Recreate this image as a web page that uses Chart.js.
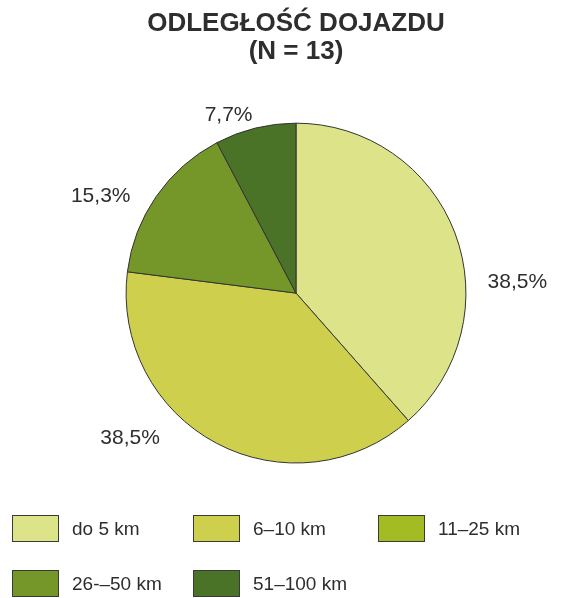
<!DOCTYPE html>
<html>
<head>
<meta charset="utf-8">
<script src="https://cdn.jsdelivr.net/npm/chart.js@4"></script>
<style>
  html, body { margin: 0; padding: 0; background: #ffffff; }
  #wrap { position: relative; width: 582px; height: 598px; }
</style>
</head>
<body>
<div id="wrap"><canvas id="c" width="582" height="598"></canvas></div>
<script>
// ---- data ----
const titleLines = ['ODLEGŁOŚĆ DOJAZDU', '(N = 13)'];
const categories = ['do 5 km', '6–10 km', '11–25 km', '26-–50 km', '51–100 km'];
const shares = [38.5, 38.5, 0, 15.3, 7.7];

// ---- style ----
const colors = ['#dce388', '#cfcf4e', '#a3bc24', '#75972a', '#4b7328'];
const textColor = '#2e2e2e';
const fontFamily = '"Liberation Sans", Arial, sans-serif';
// label anchor: angle (deg clockwise from top) and distance as a multiple of the radius
const labelAnchors = [[87.3, 1.304], [228.8, 1.298], null, [296.3, 1.282], [339.3, 1.122]];
const legendCols = [12, 193, 378];
const legendRows = [515, 570];
const legendBox = { w: 47, h: 27, gap: 13 };

const fmt = v => v.toFixed(1).replace('.', ',') + '%';

const pieLabels = {
  id: 'pieLabels',
  afterDatasetsDraw(chart) {
    const ctx = chart.ctx;
    const meta = chart.getDatasetMeta(0);
    ctx.save();
    ctx.font = '21px ' + fontFamily;
    ctx.fillStyle = textColor;
    ctx.textAlign = 'center';
    ctx.textBaseline = 'middle';
    meta.data.forEach((arc, i) => {
      const v = chart.data.datasets[0].data[i];
      if (!v || !labelAnchors[i]) return;
      const p = arc.getProps(['x', 'y', 'outerRadius'], true);
      const a = labelAnchors[i][0] * Math.PI / 180;
      const d = labelAnchors[i][1] * p.outerRadius;
      ctx.fillText(fmt(v), p.x + d * Math.sin(a), p.y - d * Math.cos(a));
    });
    ctx.restore();
  }
};

const gridLegend = {
  id: 'gridLegend',
  afterDraw(chart) {
    const ctx = chart.ctx;
    const ds = chart.data.datasets[0];
    ctx.save();
    ctx.font = '19px ' + fontFamily;
    ctx.textBaseline = 'middle';
    ctx.textAlign = 'left';
    chart.data.labels.forEach((lab, i) => {
      const col = i % legendCols.length;
      const row = Math.floor(i / legendCols.length);
      const x = legendCols[col], y = legendRows[row];
      ctx.fillStyle = ds.backgroundColor[i];
      ctx.fillRect(x, y, legendBox.w, legendBox.h);
      ctx.strokeStyle = '#3a3a3a';
      ctx.lineWidth = 1;
      ctx.strokeRect(x + 0.5, y + 0.5, legendBox.w - 1, legendBox.h - 1);
      ctx.fillStyle = textColor;
      ctx.fillText(lab, x + legendBox.w + legendBox.gap, y + legendBox.h / 2 + 1);
    });
    ctx.restore();
  }
};

new Chart(document.getElementById('c'), {
  type: 'pie',
  data: {
    labels: categories,
    datasets: [{
      data: shares,
      backgroundColor: colors,
      borderColor: '#333333',
      borderWidth: shares.map(v => v > 0 ? 1 : 0),
      hoverOffset: 0,
      offset: 0
    }]
  },
  options: {
    responsive: false,
    animation: false,
    events: [],
    layout: { padding: { top: 0, bottom: 134.5, left: 14, right: 4 } },
    plugins: {
      legend: { display: false },
      tooltip: { enabled: false },
      title: {
        display: true,
        text: titleLines,
        color: textColor,
        font: { family: fontFamily, size: 26, weight: 'bold', lineHeight: 1.08 },
        padding: { top: 10, bottom: 56.5 }
      }
    }
  },
  plugins: [pieLabels, gridLegend]
});
</script>
</body>
</html>
